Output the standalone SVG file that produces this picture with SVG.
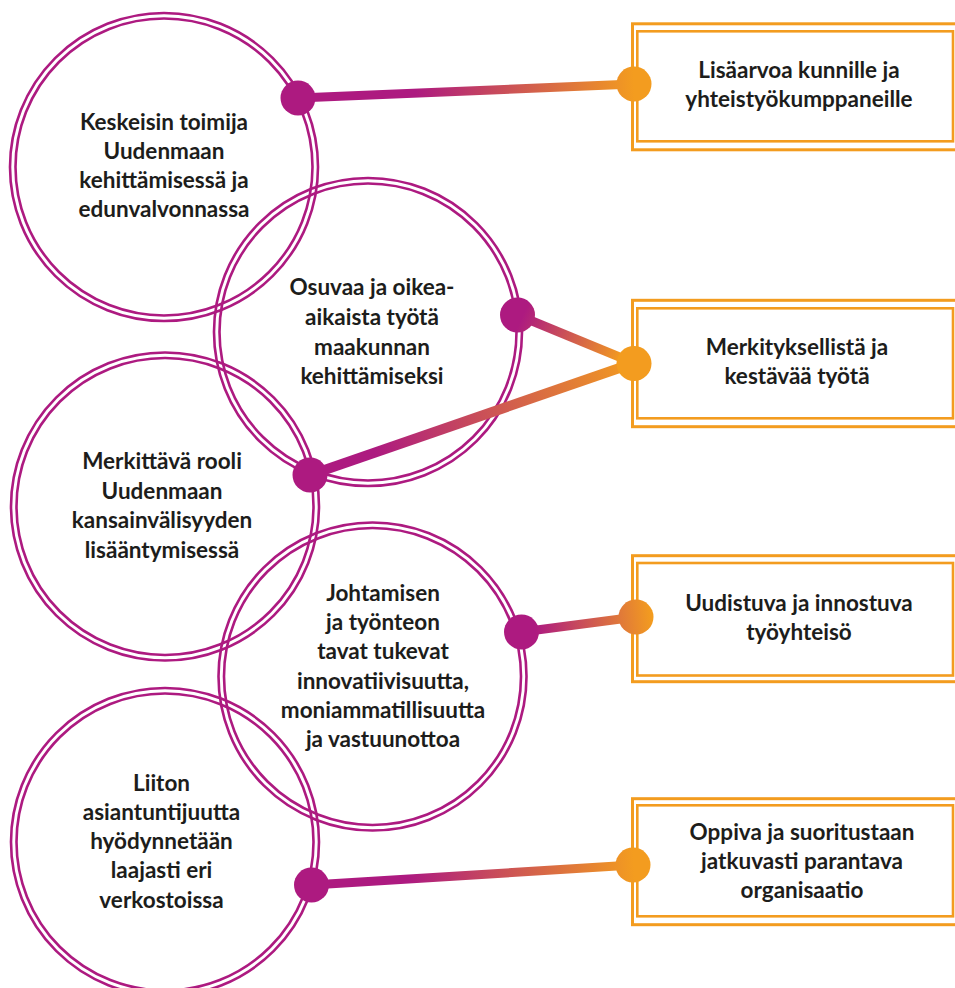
<svg xmlns="http://www.w3.org/2000/svg" width="955" height="988" viewBox="0 0 955 988">
<defs>
<style>
.ring{fill:none;stroke:#ad1a80;stroke-width:2.6}
.bo{fill:#fff;stroke:#f39c1f;stroke-width:3}
.bi{fill:none;stroke:#f39c1f;stroke-width:2.6}
text{font-family:Lato,"Noto Sans","Liberation Sans",sans-serif;font-weight:700;font-size:22.5px;fill:#1d1d1b;text-anchor:middle}
.ln{stroke-width:9;stroke-linecap:butt}
</style>
<linearGradient id="g1" gradientUnits="userSpaceOnUse" x1="298" y1="98" x2="634" y2="84"><stop offset="0.35" stop-color="#ad1a80"/><stop offset="1" stop-color="#f39c1f"/></linearGradient>
<linearGradient id="g2" gradientUnits="userSpaceOnUse" x1="510" y1="315" x2="620" y2="363"><stop offset="0.1" stop-color="#ad1a80"/><stop offset="1" stop-color="#f39c1f"/></linearGradient>
<linearGradient id="g3" gradientUnits="userSpaceOnUse" x1="310" y1="475" x2="634" y2="363"><stop offset="0.2" stop-color="#ad1a80"/><stop offset="1" stop-color="#f39c1f"/></linearGradient>
<linearGradient id="g4" gradientUnits="userSpaceOnUse" x1="515" y1="632" x2="652" y2="617"><stop offset="0.15" stop-color="#ad1a80"/><stop offset="1" stop-color="#f39c1f"/></linearGradient>
<linearGradient id="g5" gradientUnits="userSpaceOnUse" x1="312" y1="885" x2="634" y2="865"><stop offset="0.3" stop-color="#ad1a80"/><stop offset="1" stop-color="#f39c1f"/></linearGradient>
</defs>
<rect width="955" height="988" fill="#fff"/>

<g id="circle1">
<circle class="ring" cx="164" cy="167" r="154"/><circle class="ring" cx="164" cy="167" r="148.5"/>
<text x="164" y="130">Keskeisin toimija</text>
<text x="164" y="159">Uudenmaan</text>
<text x="164" y="188">kehittämisessä ja</text>
<text x="164" y="217">edunvalvonnassa</text>
</g>
<g id="circle2">
<circle class="ring" cx="368" cy="332" r="154"/><circle class="ring" cx="368" cy="332" r="148.5"/>
<text x="372" y="295">Osuvaa ja oikea-</text>
<text x="372" y="325">aikaista työtä</text>
<text x="372" y="355">maakunnan</text>
<text x="372" y="384">kehittämiseksi</text>
</g>
<g id="circle3">
<circle class="ring" cx="165" cy="506.5" r="154"/><circle class="ring" cx="165" cy="506.5" r="148.5"/>
<text x="162" y="469">Merkittävä rooli</text>
<text x="162" y="499">Uudenmaan</text>
<text x="162" y="528">kansainvälisyyden</text>
<text x="162" y="558">lisääntymisessä</text>
</g>
<g id="circle4">
<circle class="ring" cx="372.5" cy="676.5" r="154"/><circle class="ring" cx="372.5" cy="676.5" r="148.5"/>
<text x="383" y="601">Johtamisen</text>
<text x="383" y="630">ja työnteon</text>
<text x="383" y="659">tavat tukevat</text>
<text x="383" y="689">innovatiivisuutta,</text>
<text x="383" y="718">moniammatillisuutta</text>
<text x="383" y="747">ja vastuunottoa</text>
</g>
<g id="circle5">
<circle class="ring" cx="165" cy="842" r="154"/><circle class="ring" cx="165" cy="842" r="148.5"/>
<text x="161.5" y="791">Liiton</text>
<text x="161.5" y="820">asiantuntijuutta</text>
<text x="161.5" y="849">hyödynnetään</text>
<text x="161.5" y="878">laajasti eri</text>
<text x="161.5" y="908">verkostoissa</text>
</g>

<g id="box1">
<rect class="bo" x="632.5" y="23.8" width="330" height="126"/>
<rect class="bi" x="637.3" y="31.3" width="315.7" height="110"/>
<text x="799" y="78">Lisäarvoa kunnille ja</text>
<text x="799" y="107">yhteistyökumppaneille</text>
</g>
<g id="box2">
<rect class="bo" x="632.5" y="300.3" width="330" height="126.4"/>
<rect class="bi" x="637.3" y="308.3" width="315.7" height="110"/>
<text x="797" y="355">Merkityksellistä ja</text>
<text x="797" y="384">kestävää työtä</text>
</g>
<g id="box3">
<rect class="bo" x="632.5" y="555.7" width="330" height="126"/>
<rect class="bi" x="637.3" y="563" width="315.7" height="112.5"/>
<text x="799" y="611">Uudistuva ja innostuva</text>
<text x="799" y="640">työyhteisö</text>
</g>
<g id="box4">
<rect class="bo" x="632.5" y="798.7" width="330" height="126"/>
<rect class="bi" x="637.3" y="805.3" width="315.7" height="111"/>
<text x="802" y="840">Oppiva ja suoritustaan</text>
<text x="802" y="869">jatkuvasti parantava</text>
<text x="802" y="898">organisaatio</text>
</g>

<g id="connectors">
<g fill="url(#g1)" stroke="url(#g1)">
<line class="ln" x1="298" y1="98" x2="634" y2="84"/>
<circle cx="298" cy="98" r="17.5" stroke="none"/><circle cx="634" cy="84" r="17.5" stroke="none"/>
</g>
<g fill="url(#g2)" stroke="url(#g2)">
<line class="ln" x1="517.5" y1="315" x2="634" y2="363"/>
<circle cx="517.5" cy="315" r="17.5" stroke="none"/>
</g>
<g fill="url(#g3)" stroke="url(#g3)">
<line class="ln" x1="310" y1="475" x2="634" y2="363" style="stroke-width:10"/>
<circle cx="310" cy="475" r="17.5" stroke="none"/>
</g>
<circle cx="634" cy="363.5" r="17.5" fill="#f39c1f"/>
<g fill="url(#g4)" stroke="url(#g4)">
<line class="ln" x1="521.5" y1="632" x2="636" y2="617"/>
<circle cx="521.5" cy="632" r="17.5" stroke="none"/><circle cx="636" cy="617" r="17.5" stroke="none"/>
</g>
<g fill="url(#g5)" stroke="url(#g5)">
<line class="ln" x1="311.5" y1="885" x2="633" y2="865"/>
<circle cx="311.5" cy="885" r="17.5" stroke="none"/><circle cx="633" cy="865" r="17.5" stroke="none"/>
</g>
</g>
</svg>
